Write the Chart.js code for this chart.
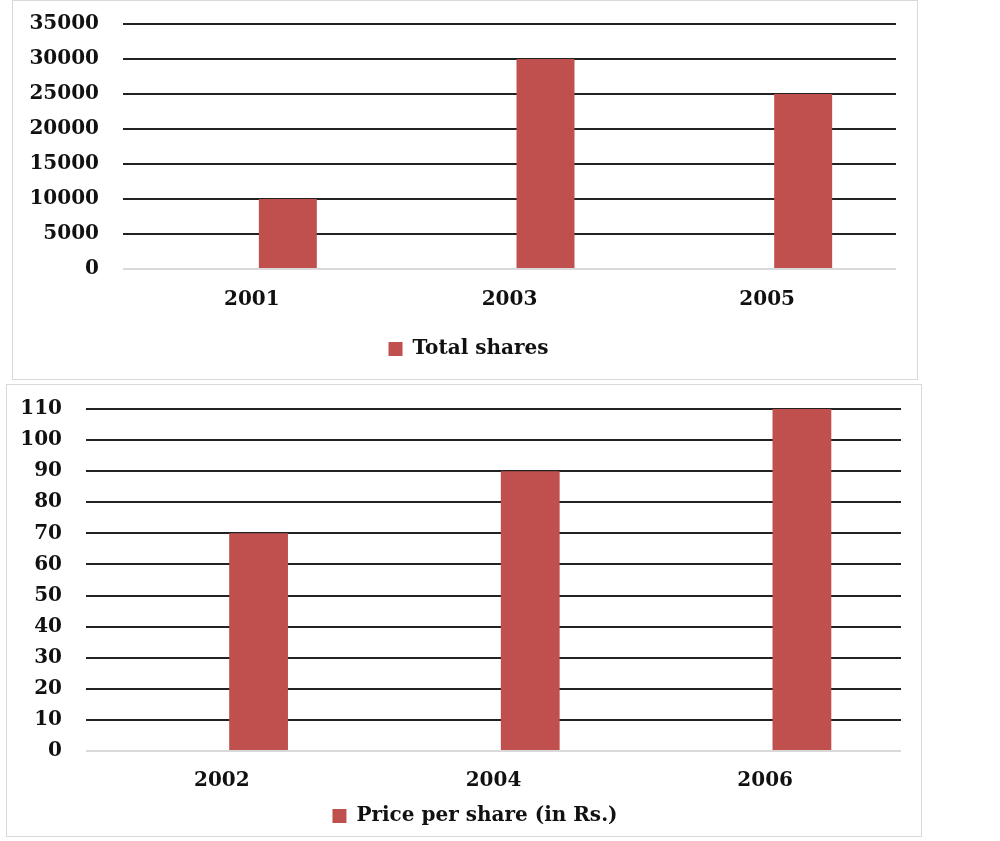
<!DOCTYPE html>
<html>
<head>
<meta charset="utf-8">
<script src="https://cdn.jsdelivr.net/npm/chart.js@4.4.1/dist/chart.umd.min.js"></script>
<style>
  body { margin: 0; background: #fff; width: 1000px; height: 841px; position: relative; }
  .box { position: absolute; border: 1px solid #d9d9d9; box-sizing: border-box; background: #fff; }
  .box canvas { position: absolute; left: 0; top: 0; }
</style>
</head>
<body>
<div class="box" id="box1" style="left:12px;top:0px;width:906px;height:380px;"><canvas id="c1"></canvas></div>
<div class="box" id="box2" style="left:6px;top:384px;width:916px;height:453px;"><canvas id="c2"></canvas></div>
<script>
// top chart
const shareYears = ['2001', '2003', '2005'];
const totalShares = [10000, 30000, 25000];
// bottom chart
const priceYears = ['2002', '2004', '2006'];
const pricePerShare = [70, 90, 110];

const barColor = '#C0504D';
const font = { family: 'DejaVu Serif', weight: 'bold', size: 20 };

// legend in the original sits a little right of centre
const legendShift = {
  id: 'legendShift',
  afterLayout(chart, args, o) {
    if (chart.legend) {
      chart.legend.left += o.dx;
      chart.legend.right += o.dx;
    }
  }
};

function makeChart(id, labels, values, name, opts) {
  const canvas = document.getElementById(id);
  const box = canvas.parentElement;
  canvas.width = box.offsetWidth;
  canvas.height = box.offsetHeight;
  canvas.style.width = box.offsetWidth + 'px';
  canvas.style.height = box.offsetHeight + 'px';

  return new Chart(canvas, {
    type: 'bar',
    plugins: [legendShift],
    data: {
      labels: labels,
      datasets: [
        // empty slot on the left, the original sheet had a second (blank) series
        { label: '', data: [], backgroundColor: barColor },
        {
          label: name,
          data: values,
          backgroundColor: barColor,
          borderWidth: 0
        }
      ]
    },
    options: {
      responsive: false,
      animation: false,
      categoryPercentage: opts.catPct,
      barPercentage: opts.barPct,
      layout: { padding: opts.padding },
      plugins: {
        tooltip: { enabled: false },
        legendShift: { dx: opts.legendDx },
        legend: {
          position: 'bottom',
          labels: {
            color: '#111',
            font: font,
            boxWidth: 14,
            boxHeight: 14,
            padding: opts.legendPad,
            filter: (item) => item.text !== ''
          }
        }
      },
      scales: {
        x: {
          grid: { display: false, drawTicks: false },
          border: { display: false },
          ticks: { color: '#111', font: font, padding: opts.xPad },
          afterFit: (s) => { s.height = opts.xHeight; }
        },
        y: {
          min: 0,
          max: opts.max,
          grid: {
            drawTicks: true,
            tickLength: 22,
            tickColor: 'rgba(0,0,0,0)',
            lineWidth: 2,
            color: (ctx) => ctx.tick && ctx.tick.value === 0 ? '#d9d9d9' : '#222'
          },
          border: { display: false },
          ticks: {
            color: '#111', font: font, stepSize: opts.step, padding: 2,
            callback: (v) => String(v)
          },
          afterFit: (s) => { s.width = opts.yWidth; }
        }
      }
    }
  });
}

makeChart('c1', shareYears, totalShares, 'Total shares', {
  max: 35000, step: 5000, catPct: 0.559, barPct: 0.805,
  padding: { left: 10, right: 23, top: 23, bottom: 12 },
  yWidth: 100, xHeight: 60, xPad: 19, legendPad: 10, legendDx: 9
});

makeChart('c2', priceYears, pricePerShare, 'Price per share (in Rs.)', {
  max: 110, step: 10, catPct: 0.541, barPct: 0.80,
  padding: { left: 10, right: 22, top: 24, bottom: 2 },
  yWidth: 69, xHeight: 47, xPad: 18, legendPad: 8, legendDx: 16
});
</script>
</body>
</html>
